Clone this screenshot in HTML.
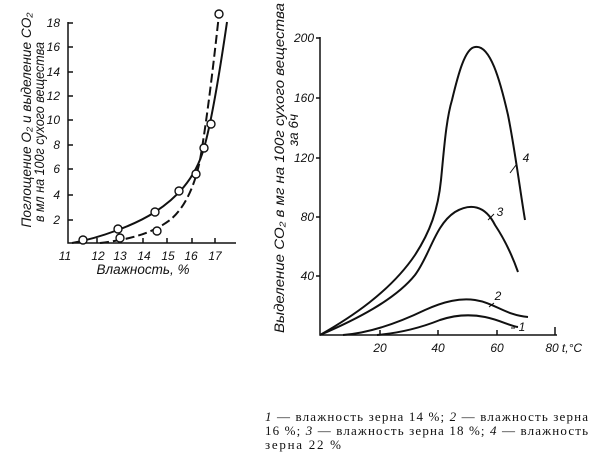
<!DOCTYPE html>
<html><head><meta charset="utf-8"><style>
html,body{margin:0;padding:0;background:#fff;}
svg{display:block;}
.t{font-family:"Liberation Sans",sans-serif;font-style:italic;font-size:12px;fill:#111;}
.l{font-family:"Liberation Sans",sans-serif;font-style:italic;font-size:13.5px;fill:#111;}
.c{font-family:"Liberation Serif",serif;font-size:13px;fill:#111;}
</style></head><body>
<svg width="604" height="462" viewBox="0 0 604 462" xmlns="http://www.w3.org/2000/svg">
<g stroke="#111" fill="none" stroke-width="1.5">
<path d="M68,22 V243 H236"/>
<path d="M68,23h5 M68,47h5 M68,72h5 M68,96h5 M68,120h5 M68,145h5 M68,169h5 M68,195h5 M68,220h5"/>
<path d="M97,243v-5 M120,243v-5 M143,243v-5 M167,243v-5 M192,243v-5 M215,243v-5"/>
<path stroke-width="2" d="M72,243 C100,238 135,225 155,212 C175,199 195,180 204,148 C212,120 220,70 227,22"/>
<path stroke-width="2" stroke-dasharray="9,4" d="M100,243 C125,240 150,235 170,220 C185,208 195,185 200,160 C207,120 214,60 219,14"/>
<g stroke-width="1.4" fill="#fff">
<circle cx="83" cy="240" r="4"/><circle cx="118" cy="229" r="4"/><circle cx="120" cy="238" r="4"/>
<circle cx="157" cy="231" r="4"/><circle cx="155" cy="212" r="4"/><circle cx="179" cy="191" r="4"/>
<circle cx="196" cy="174" r="4"/><circle cx="204" cy="148" r="4"/><circle cx="211" cy="124" r="4"/>
<circle cx="219" cy="14" r="4"/></g>
<path d="M320,37 V335 H557"/>
<path d="M320,38h-4 M320,98h-4 M320,158h-4 M320,217h-4 M320,276h-4"/>
<path d="M380,335v-5 M438,335v-5 M497,335v-5 M555,335v-8"/>
<path stroke-width="2" d="M320,335 C350,318 390,292 415,255 C430,232 438,210 441,180 C444,150 446,120 452,100 C458,75 465,48 475,47 C490,44 500,80 508,115 C515,150 520,190 525,220"/>
<path stroke-width="2" d="M320,335 C355,320 395,300 415,275 C430,255 435,225 455,212 C470,203 485,205 495,225 C505,240 512,255 518,272"/>
<path stroke-width="2" d="M343,335 C370,333 400,322 425,310 C445,301 460,298 475,300 C495,303 505,315 528,317"/>
<path stroke-width="2" d="M377,335 C400,333 420,328 440,320 C455,315 470,314 485,317 C500,320 510,326 518,327"/>
<path stroke-width="1" d="M516,165 l-6,8 M494,214 l-6,6 M494,303 l-5,4 M515,328 l-4,0"/>
</g>
<g class="t" text-anchor="end">
<text x="60" y="27">18</text><text x="60" y="51">16</text><text x="60" y="76">14</text><text x="60" y="100">12</text>
<text x="60" y="124">10</text><text x="60" y="149">8</text><text x="60" y="173">6</text><text x="60" y="199">4</text><text x="60" y="224">2</text>
</g>
<g class="t" text-anchor="middle">
<text x="65" y="260">11</text><text x="98" y="260">12</text><text x="120" y="260">13</text><text x="144" y="260">14</text>
<text x="168" y="260">15</text><text x="191" y="260">16</text><text x="215" y="260">17</text>
<text x="572" y="352">t,°C</text>
<text x="380" y="352">20</text><text x="438" y="352">40</text><text x="497" y="352">60</text><text x="552" y="352">80</text>
<text x="526" y="162">4</text><text x="500" y="216">3</text><text x="498" y="300">2</text><text x="522" y="331">1</text>
</g>
<g class="t" text-anchor="end">
<text x="314" y="42">200</text><text x="314" y="102">160</text><text x="314" y="162">120</text><text x="314" y="221">80</text><text x="314" y="280">40</text>
</g>
<g class="l" text-anchor="middle">
<text x="143" y="274">Влажность, %</text>
<text transform="translate(31,120) rotate(-90)" textLength="215" lengthAdjust="spacingAndGlyphs">Поглощение O₂ и выделение CO₂</text>
<text transform="translate(44,132) rotate(-90)" textLength="180" lengthAdjust="spacingAndGlyphs">в мл на 100г сухого вещества</text>
<text transform="translate(284,168) rotate(-90)" textLength="330" lengthAdjust="spacingAndGlyphs">Выделение CO₂ в мг на 100г сухого вещества</text>
<text transform="translate(298,130) rotate(-90)">за 6ч</text>
</g>
<g class="c">
<text x="265" y="421" textLength="323" lengthAdjust="spacing"><tspan font-style="italic">1</tspan> — влажность зерна 14 %; <tspan font-style="italic">2</tspan> — влажность зерна</text>
<text x="265" y="435" textLength="323" lengthAdjust="spacing">16 %; <tspan font-style="italic">3</tspan> — влажность зерна 18 %; <tspan font-style="italic">4</tspan> — влажность</text>
<text x="265" y="449" textLength="76" lengthAdjust="spacing">зерна 22 %</text>
</g>
</svg>
</body></html>
